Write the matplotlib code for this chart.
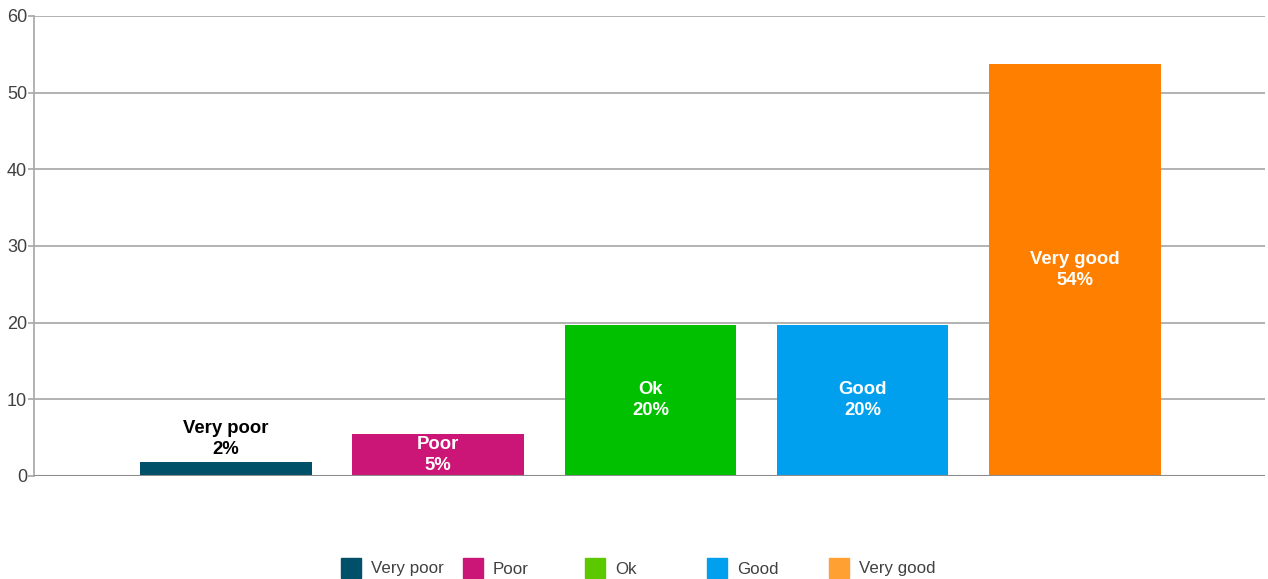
import matplotlib.pyplot as plt
from matplotlib.patches import Rectangle

categories = ["Very poor", "Poor", "Ok", "Good", "Very good"]
values = [1.8, 5.5, 19.7, 19.7, 53.7]
labels = ["2%", "5%", "20%", "20%", "54%"]
bar_colors = ["#00506a", "#cc1677", "#00c000", "#00a0ee", "#ff8000"]
legend_colors = ["#00506a", "#cc1677", "#5cc800", "#00a0ee", "#ffa033"]

plt.rcParams['font.family'] = ['Liberation Sans', 'DejaVu Sans']

fig = plt.figure(figsize=(12.68, 5.79), dpi=100)
ax = fig.add_axes([0.0268, 0.178, 0.9708, 0.7944])

x = list(range(len(categories)))
ax.bar(x, values, width=0.81, color=bar_colors, zorder=3)

for i, v in enumerate(values):
    if v < 4:
        ax.text(i, v + 0.6, categories[i] + "\n" + labels[i], ha='center', va='bottom',
                fontsize=13.3, fontweight='bold', color='black', linespacing=1.3)
    else:
        ax.text(i, v / 2, categories[i] + "\n" + labels[i], ha='center', va='center',
                fontsize=13.3, fontweight='bold', color='white', linespacing=1.3, zorder=4)

ax.set_xlim(-0.906, 4.897)
ax.set_ylim(0, 60)
ax.set_yticks(range(0, 61, 10))
ax.set_xticks([])
ax.yaxis.grid(True, color='#a6a6a6', linewidth=1.2, zorder=0)
for s in ['top', 'right', 'bottom']:
    ax.spines[s].set_visible(False)
ax.spines['left'].set_color('#a6a6a6')
ax.spines['left'].set_linewidth(1.2)
ax.axhline(0, color='#8c8c8c', linewidth=1.5, zorder=4)
ax.tick_params(axis='y', colors='#a6a6a6', labelcolor='#404040', labelsize=13, length=4, width=1.2, pad=1)

# legend drawn item by item at even spacing
for i, name in enumerate(categories):
    lx = 341 / 1268 + i * 122 / 1268
    fig.patches.append(Rectangle((lx, (579 - 578) / 579), 20 / 1268, 20 / 579,
                                 transform=fig.transFigure, color=legend_colors[i]))
    fig.text(lx + 30 / 1268, (579 - 569) / 579, name, ha='left', va='center',
             fontsize=12.2, color='#404040')

plt.savefig('out.png')
